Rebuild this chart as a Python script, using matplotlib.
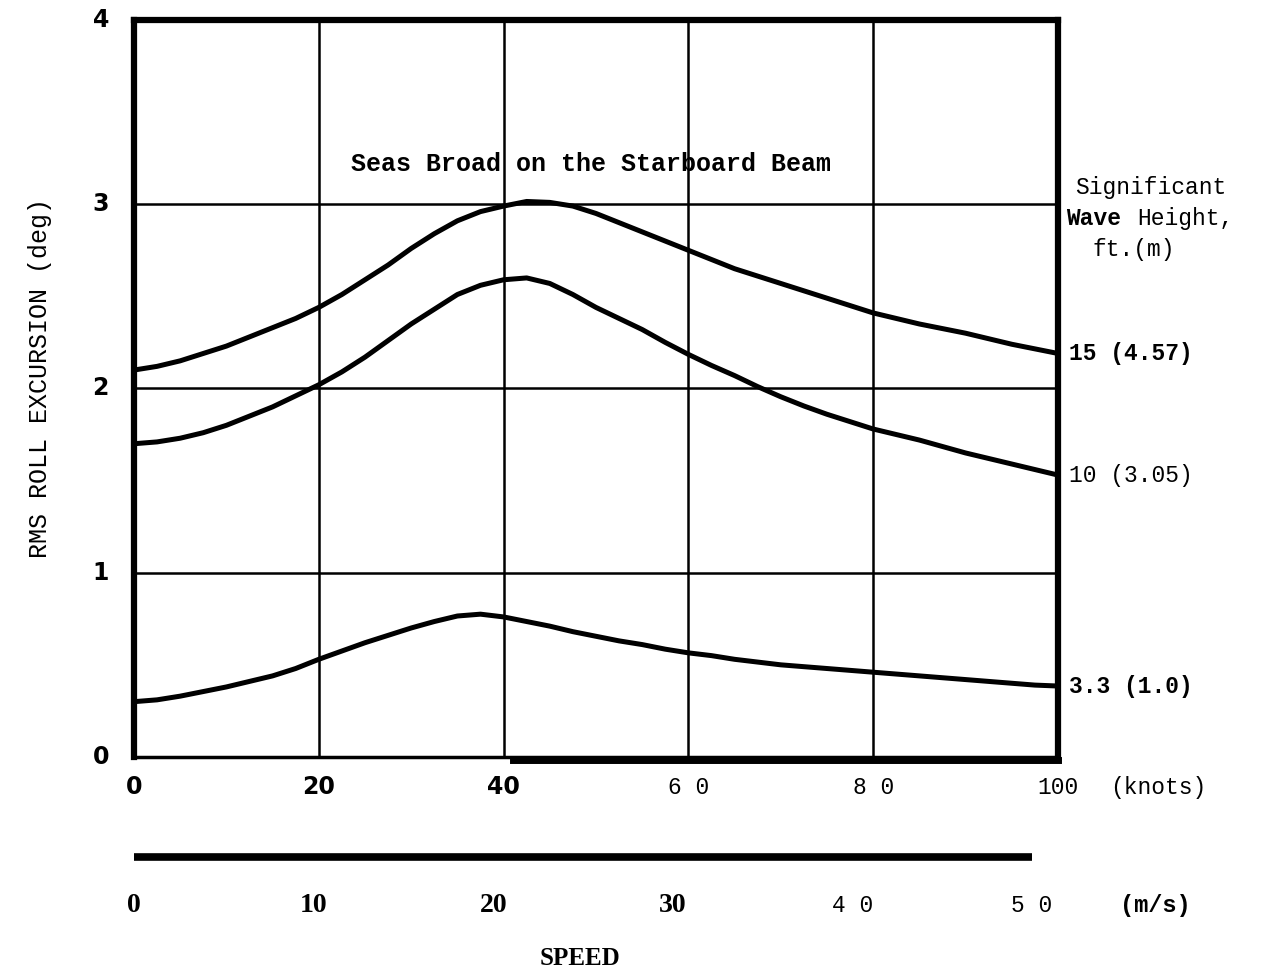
import matplotlib.pyplot as plt
import numpy as np

# speed in knots (every 2.5 kn), RMS roll excursion in degrees
speed_kn = np.arange(0, 100.1, 2.5)
roll_15ft = [2.10, 2.12, 2.15, 2.19, 2.23, 2.28, 2.33, 2.38, 2.44, 2.51, 2.59, 2.67, 2.76,
             2.84, 2.91, 2.96, 2.99, 3.015, 3.01, 2.99, 2.95, 2.90, 2.85, 2.80, 2.75, 2.70,
             2.65, 2.61, 2.57, 2.53, 2.49, 2.45, 2.41, 2.38, 2.35, 2.325, 2.30, 2.27, 2.24,
             2.215, 2.19]
roll_10ft = [1.70, 1.71, 1.73, 1.76, 1.80, 1.85, 1.90, 1.96, 2.02, 2.09, 2.17, 2.26, 2.35,
             2.43, 2.51, 2.56, 2.59, 2.60, 2.57, 2.51, 2.44, 2.38, 2.32, 2.25, 2.185, 2.125,
             2.07, 2.01, 1.955, 1.905, 1.86, 1.82, 1.78, 1.75, 1.72, 1.685, 1.65, 1.62, 1.59,
             1.56, 1.53]
roll_3ft = [0.30, 0.31, 0.33, 0.355, 0.38, 0.41, 0.44, 0.48, 0.53, 0.575, 0.62, 0.66, 0.70,
            0.735, 0.765, 0.775, 0.76, 0.735, 0.71, 0.68, 0.655, 0.63, 0.61, 0.585, 0.565,
            0.55, 0.53, 0.515, 0.50, 0.49, 0.48, 0.47, 0.46, 0.45, 0.44, 0.43, 0.42, 0.41,
            0.40, 0.39, 0.385]

wave_labels = ["15 (4.57)", "10 (3.05)", "3.3 (1.0)"]
wave_bold = [True, False, True]

knot_ticks = [0, 20, 40, 60, 80, 100]
knot_labels = ["0", "20", "40", "6 0", "8 0", "100"]
ms_ticks = [0, 10, 20, 30, 40, 50]
ms_labels = ["0", "10", "20", "30", "4 0", "5 0"]
KN_PER_MS = 1.944

mono = "Liberation Mono"

fig = plt.figure(figsize=(12.64, 9.8), dpi=100)
ax = fig.add_axes([0.106, 0.2276, 0.731, 0.752])

ax.set_xlim(0, 100)
ax.set_ylim(0, 4)
ax.set_xticks([20, 40, 60, 80])
ax.set_yticks([1, 2, 3])
ax.grid(True, color="black", lw=1.8)
ax.tick_params(length=0, labelbottom=False, labelleft=False)
for side in ["left", "top", "right"]:
    ax.spines[side].set_linewidth(4.5)
ax.spines["bottom"].set_linewidth(2.5)
ax.axhline(-0.018, xmin=0.41, xmax=1.0, color="black", lw=5, clip_on=False)

for vals in [roll_15ft, roll_10ft, roll_3ft]:
    ax.plot(speed_kn, vals, color="black", lw=3.6, solid_capstyle="round",
            solid_joinstyle="round")

# curve labels at right end
for vals, lab, b in zip([roll_15ft, roll_10ft, roll_3ft], wave_labels, wave_bold):
    ax.text(101.2, vals[-1], lab, fontsize=16.5, family=mono,
            fontweight="bold" if b else "normal", ha="left", va="center",
            clip_on=False)

ax.text(1.1, 0.773, "Significant", transform=ax.transAxes, fontsize=16.5,
        family=mono, ha="center", va="center")
ax.text(1.009, 0.73, "Wave", transform=ax.transAxes, fontsize=16.5,
        family=mono, fontweight="bold", ha="left", va="center")
ax.text(1.086, 0.73, "Height,", transform=ax.transAxes, fontsize=16.5,
        family=mono, ha="left", va="center")
ax.text(1.082, 0.688, "ft.(m)", transform=ax.transAxes, fontsize=16.5,
        family=mono, ha="center", va="center")

ax.text(49.5, 3.22, "Seas Broad on the Starboard Beam", fontsize=18,
        family=mono, fontweight="bold", ha="center", va="center")

# y tick labels
for v in [0, 1, 2, 3, 4]:
    ax.text(-3.6, v, str(v), fontsize=17, fontweight="bold", ha="center",
            va="center", family="DejaVu Sans", clip_on=False)

# knot tick labels
for t, lab in zip(knot_ticks, knot_labels):
    bold = t <= 40
    ax.text(t, -0.165, lab, fontsize=17 if bold else 16.5,
            family="DejaVu Sans" if bold else mono,
            fontweight="bold" if bold else "normal",
            ha="center", va="center", clip_on=False)
ax.text(110.8, -0.165, "(knots)", fontsize=16.5, family=mono, ha="center",
        va="center", clip_on=False)

fig.text(0.032, 1 - 378 / 980, "RMS ROLL EXCURSION (deg)", rotation=90,
         fontsize=18, family=mono, ha="center", va="center")

# m/s scale
ax2 = fig.add_axes([0.106, 0.06, 0.731, 0.08])
ax2.set_xlim(0, 100)
ax2.set_ylim(0, 1)
ax2.axis("off")
ax2.plot([0, ms_ticks[-1] * KN_PER_MS], [0.82, 0.82], color="black", lw=5.5,
         solid_capstyle="butt")
for t, lab in zip(ms_ticks, ms_labels):
    bold = t <= 30
    ax2.text(t * KN_PER_MS, 0.2, lab, fontsize=20 if bold else 16.5,
             family="Liberation Serif" if bold else mono,
             fontweight="bold" if bold else "normal",
             ha="center", va="center")
ax2.text(110.5, 0.2, "(m/s)", fontsize=17, family=mono, fontweight="bold",
         ha="center", va="center")

fig.text(580 / 1264, 1 - 958 / 980, "SPEED", fontsize=18, family="Liberation Serif",
         fontweight="bold", ha="center", va="center")

fig.savefig("out.png", dpi=100, facecolor="white")
